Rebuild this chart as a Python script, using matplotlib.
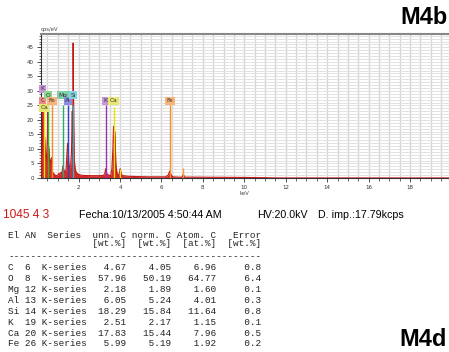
import numpy as np
import matplotlib
matplotlib.use("Agg")
import matplotlib.pyplot as plt
from matplotlib.ticker import MultipleLocator

# spectrum (keV, cps/eV)
energy = [0.19, 0.22, 0.25, 0.27, 0.29, 0.31, 0.34, 0.37, 0.40, 0.44, 0.47,
          0.50, 0.52, 0.54, 0.57, 0.60, 0.64, 0.68, 0.71, 0.74, 0.78, 0.84,
          0.92, 1.00, 1.05, 1.10, 1.15, 1.20, 1.25, 1.30, 1.35, 1.40, 1.44,
          1.47, 1.50, 1.53, 1.57, 1.62, 1.66, 1.70, 1.72, 1.74, 1.77, 1.80,
          1.84, 1.90, 2.00, 2.20, 2.60, 3.00, 3.20, 3.27, 3.31, 3.36, 3.45,
          3.55, 3.61, 3.66, 3.69, 3.72, 3.76, 3.80, 3.86, 3.95, 4.01, 4.07,
          4.15, 4.40, 4.80, 5.40, 6.20, 6.33, 6.40, 6.46, 6.55, 6.80, 7.00,
          7.06, 7.12, 7.40, 8.50, 10.0, 11.0, 11.5, 20.0]
counts = [0.5, 6.0, 12.0, 23.0, 9.0, 6.5, 7.0, 14.0, 8.0, 6.0, 9.0,
          14.0, 25.0, 12.0, 10.0, 7.0, 6.0, 5.0, 7.0, 2.0, 1.8, 1.2,
          0.8, 1.0, 1.6, 1.2, 2.0, 1.5, 4.2, 2.5, 1.8, 3.0, 8.0,
          11.5, 12.0, 5.0, 3.5, 4.0, 9.0, 23.0, 12.0, 46.5, 19.0, 6.0,
          3.0, 1.8, 1.2, 0.9, 0.8, 0.8, 0.9, 1.5, 3.2, 1.5, 1.0,
          0.8, 3.0, 10.0, 17.7, 12.0, 16.0, 5.0, 1.5, 1.0, 3.2, 1.2,
          0.8, 0.6, 0.5, 0.4, 0.4, 1.0, 2.4, 1.2, 0.4, 0.3, 0.3,
          1.2, 0.3, 0.3, 0.25, 0.2, 0.1, 0.0, 0.0]

# element markers
el_names = ["C", "Ca", "K", "O", "Fe", "Mg", "Al", "Si", "K", "Ca", "Fe"]
el_energy = [0.277, 0.341, 0.26, 0.525, 0.705, 1.254, 1.487, 1.740, 3.313, 3.691, 6.403]
el_label_y = [26.6, 24.2, 30.8, 28.5, 26.6, 28.5, 26.6, 28.5, 26.6, 26.6, 26.6]
el_line_top = [25, 24, 0, 25, 25, 25, 25, 25, 25, 24.5, 25]
el_box = ["#f08a8a", "#e8e870", "#c896d8", "#8cd88c", "#f8b478", "#7fd0a8",
          "#8c8ce0", "#80d4e0", "#c896d8", "#e8e870", "#f8b478"]
el_line = ["#e02020", "#e6e600", "#9b30b0", "#2eb82e", "#ff8c1a", "#2fa86a",
           "#2848c8", "#30b0c8", "#9b30b0", "#e6e600", "#ff8c1a"]

# secondary (K-beta) markers
kb_energy = [4.012, 7.058]
kb_top = [3.0, 3.5]
kb_color = ["#e6e600", "#ff9a3a"]

# quantification table
q_el = ["C", "O", "Mg", "Al", "Si", "K", "Ca", "Fe"]
q_an = [6, 8, 12, 13, 14, 19, 20, 26]
q_unn = [4.67, 57.96, 2.18, 6.05, 18.29, 2.51, 17.83, 5.99]
q_norm = [4.05, 50.19, 1.89, 5.24, 15.84, 2.17, 15.44, 5.19]
q_atom = [6.96, 64.77, 1.60, 4.01, 11.64, 1.15, 7.96, 1.92]
q_err = [0.8, 6.4, 0.1, 0.3, 0.8, 0.1, 0.5, 0.2]

W, H = 449, 352
fig = plt.figure(figsize=(W / 100, H / 100), dpi=100)
fig.patch.set_facecolor("white")

ax = fig.add_axes([41 / W, 1 - 178 / H, 1 - 41 / W, (178 - 34) / H])
ax.set_xlim(0.19, 19.88)
ax.set_ylim(0, 49.6)

ax.xaxis.set_major_locator(MultipleLocator(2))
ax.xaxis.set_minor_locator(MultipleLocator(0.5))
ax.yaxis.set_major_locator(MultipleLocator(5))
ax.yaxis.set_minor_locator(MultipleLocator(1))
ax.grid(True, axis="x", which="both", color="#d4d4d4", lw=1.0, zorder=0)
ax.grid(True, axis="y", which="both", color="#e2e2e2", lw=0.7, zorder=0)
ax.set_axisbelow(True)

ax.tick_params(which="major", direction="out", length=3, width=0.6,
               labelsize=4, colors="#333333", pad=2)
ax.tick_params(which="minor", direction="out", length=1.8, width=0.5,
               colors="#333333")

ax.spines["right"].set_visible(False)
ax.spines["top"].set_color("#888888")
ax.spines["top"].set_linewidth(1.5)
ax.spines["left"].set_color("#333333")
ax.spines["left"].set_linewidth(0.8)
ax.spines["bottom"].set_color("#333333")
ax.spines["bottom"].set_linewidth(0.8)

# spectrum
ax.fill_between(energy, 0, counts, color="#d42a2a", lw=0, zorder=2)
ax.plot(energy, counts, color="#c41818", lw=0.8, zorder=3)
ax.axhline(0.15, color="#d42a2a", lw=1.0, zorder=3)

# marker lines and labels
for name, e, ly, top, fc, lc in zip(el_names, el_energy, el_label_y,
                                     el_line_top, el_box, el_line):
    if top > 0:
        ax.vlines(e, 0, top, color=lc, lw=1.0, zorder=4)
    ax.text(e, ly, name, fontsize=4.2, ha="center", va="center",
            color="#333333", zorder=6,
            bbox=dict(boxstyle="square,pad=0.25", fc=fc, ec="none"))
ax.vlines(kb_energy, 0, kb_top, colors=kb_color, lw=1.0, zorder=4)

ax.text(0.0, 1.012, "cps/eV", transform=ax.transAxes, fontsize=3.8,
        color="#444444", ha="left", va="bottom")
ax.text(10, -0.09, "keV", transform=ax.get_xaxis_transform(), fontsize=3.8,
        color="#444444", ha="center", va="top")

# headings
fig.text(448 / W, 1 - 17 / H, "M4b", fontsize=17, fontweight="bold",
         family="Liberation Sans", ha="right", va="center")
fig.text(447 / W, 1 - 346 / H, "M4d", fontsize=17, fontweight="bold",
         family="Liberation Sans", ha="right", va="baseline")

info_y = 1 - 215 / H
fig.text(3 / W, info_y, "1045 4 3", fontsize=8.6, color="#d01818",
         family="Liberation Sans", va="center")
fig.text(79 / W, info_y, "Fecha:10/13/2005 4:50:44 AM", fontsize=7.7,
         family="Liberation Sans", va="center")
fig.text(257 / W, info_y, "HV:20.0kV", fontsize=7.7,
         family="Liberation Sans", va="center")
fig.text(318 / W, info_y, "D. imp.:17.79kcps", fontsize=7.7,
         family="Liberation Sans", va="center")

# table
lines = ["El AN  Series  unn. C norm. C Atom. C   Error",
         " " * 15 + "[wt.%]  [wt.%]  [at.%]  [wt.%]",
         "-" * 45]
for el, an, u, n, a, er in zip(q_el, q_an, q_unn, q_norm, q_atom, q_err):
    lines.append("%-2s %-2d K-series%7.2f%8.2f%8.2f%8.1f" % (el, an, u, n, a, er))

row_y = [235, 244, 256.5] + [268 + 10.85 * i for i in range(len(q_el))]
for txt, yy in zip(lines, row_y):
    fig.text(8 / W, 1 - yy / H, txt, fontsize=6.75, family="Liberation Mono",
             color="#222222", va="center")

fig.savefig("out.png", dpi=100)
